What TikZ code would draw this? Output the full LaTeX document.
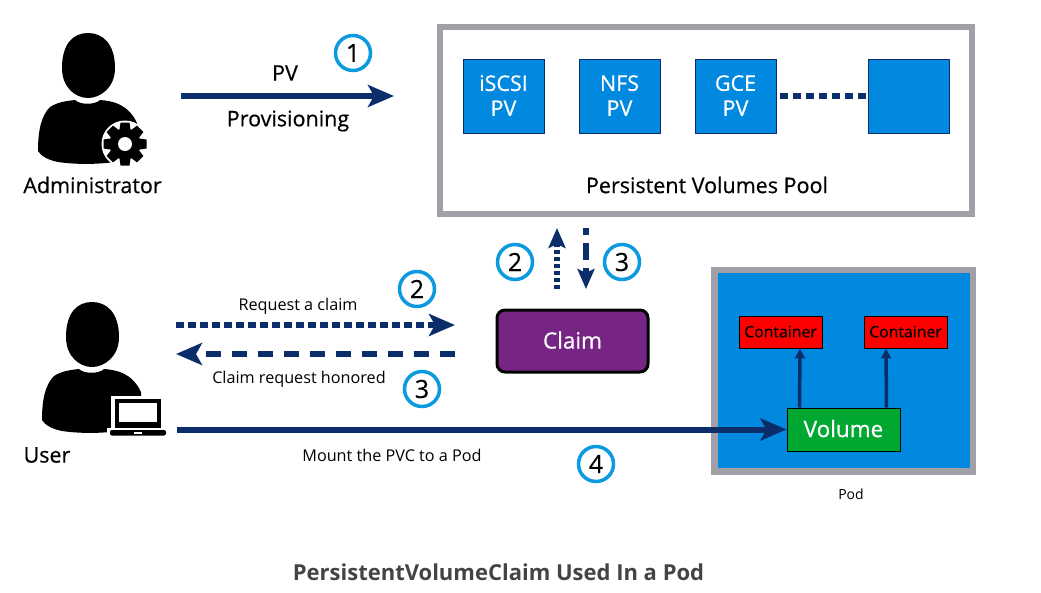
\documentclass[tikz,border=0pt]{standalone}
\usepackage{fontspec}
\setmainfont{Open Sans}
\newfontfamily\semifont[FakeBold=0.5]{Open Sans}
\usepackage{xcolor}
\usetikzlibrary{arrows.meta,positioning}
\definecolor{navyc}{HTML}{0B2E6B}
\definecolor{greyc}{HTML}{A0A0A6}
\definecolor{bluec}{HTML}{0089DF}
\definecolor{ringc}{HTML}{0B9AE0}
\definecolor{purplec}{HTML}{762585}
\definecolor{greenc}{HTML}{00A832}
\definecolor{titlec}{HTML}{444444}
\tikzset{
  poolbox/.style={rectangle, draw=greyc, line width=6pt, fill=white, minimum width=532pt, minimum height=187pt},
  podbox/.style={rectangle, draw=greyc, line width=6.5pt, fill=bluec, minimum width=258.5pt, minimum height=201.5pt},
  pvnode/.style={rectangle, draw=navyc, line width=0.8pt, fill=bluec, text=white, minimum width=81pt, minimum height=74pt,
    inner sep=0pt, align=center, font=\semifont\fontsize{21.5}{25}\selectfont},
  claimnode/.style={rectangle, rounded corners=8pt, draw=black, line width=3pt, fill=purplec, text=white,
    minimum width=151pt, minimum height=62pt, font=\semifont\fontsize{22.5}{26}\selectfont},
  containernode/.style={rectangle, draw=black, line width=1pt, fill=red, text=black, minimum width=83pt, minimum height=32pt,
    inner sep=0pt, font=\semifont\fontsize{15.8}{18}\selectfont},
  volumenode/.style={rectangle, draw=black, line width=1pt, fill=greenc, text=white, minimum width=113pt, minimum height=43pt,
    inner sep=0pt, font=\semifont\fontsize{22.5}{26}\selectfont},
  stepmark/.style={circle, draw=ringc, line width=3.5pt, fill=white, text=black, minimum size=35pt, inner sep=0pt,
    font=\semifont\fontsize{25}{29}\selectfont},
  biglabel/.style={inner sep=0pt, font=\semifont\fontsize{21.5}{24}\selectfont},
  smalllabel/.style={inner sep=0pt, font=\fontsize{16.2}{18}\selectfont},
  solidedge/.style={-{Stealth[length=26pt,width=22pt,inset=6pt]}, draw=navyc, line width=6pt},
  dottededge/.style={solidedge, dash pattern=on 8pt off 4pt},
  dashededge/.style={solidedge, dash pattern=on 15pt off 11pt},
  thinedge/.style={-{Stealth[length=10pt,width=10pt,inset=1pt]}, draw=navyc, line width=3.5pt},
  person/.pic={
    \fill[black] (0,-33) .. controls (-15,-33) and (-26,-22) .. (-26,2)
      .. controls (-26,22) and (-12,32) .. (0,32)
      .. controls (12,32) and (27,22) .. (27,2)
      .. controls (27,-22) and (15,-33) .. (0,-33) -- cycle;
    \fill[black] (-50,85) .. controls (-50,65) and (-47,50) .. (-38,41)
      .. controls (-30,36) and (-22,35) .. (-13,34)
      .. controls (-8,39) and (7,39) .. (12,34)
      .. controls (25,35) and (40,38) .. (49,57)
      -- (49,92) .. controls (20,99) and (-10,99) .. (-30,96)
      .. controls (-40,94) and (-47,90) .. (-50,85) -- cycle;
  },
}
\begin{document}
\begin{tikzpicture}[x=1pt, y=-1pt]
  \useasboundingbox (0,0) rectangle (1041,592);
  % administrator
  \pic at (88,66) {person};
  \fill[white] (125,144) circle (23.5);
  \foreach \a in {0,45,...,315} {
    \fill[black, rotate around={\a:(125,144)}] (120.5,122.5) -- (129.5,122.5) -- (131,133) -- (119,133) -- cycle;
  }
  \fill[black] (125,144) circle (15.5);
  \fill[white] (125,144) circle (7);
  % user
  \pic at (92,335) {person};
  \fill[white] (111,396) rectangle (165,428);
  \fill[white] (107,428) rectangle (169,438);
  \fill[black] (115,399) rectangle (161,428);
  \fill[white] (119,403) rectangle (157,422);
  \fill[black, rounded corners=2pt] (110,430) rectangle (166,435.5);
  \fill[white] (134,432) rectangle (142,434);
  \node[biglabel] (admin) at (92.5,185) {Administrator};
  \node[biglabel] (user) at (47,455) {User};
  % pool
  \node[poolbox] (pool) at (706,120.5) {};
  \node[pvnode] (iscsi) at (503.5,96) {\raisebox{1pt}{iSCSI}\\\raisebox{1pt}{PV}};
  \node[pvnode] (nfs) at (619.5,96) {\raisebox{1pt}{NFS}\\\raisebox{1pt}{PV}};
  \node[pvnode] (gce) at (735.5,96) {\raisebox{1pt}{GCE}\\\raisebox{1pt}{PV}};
  \node[pvnode] (blank) at (908.5,96) {};
  \node[biglabel] (poollabel) at (707,185) {Persistent Volumes Pool};
  \draw[navyc, line width=6pt, dash pattern=on 8pt off 5pt] (gce.east) ++(4,0) coordinate (dots) -- (dots -| blank.west);
  % pod
  \node[podbox] (pod) at (843.5,370.5) {};
  \node[containernode] (c1) at (780.5,332) {\raisebox{1pt}{Container}};
  \node[containernode] (c2) at (905.5,332) {\raisebox{1pt}{Container}};
  \node[volumenode] (volume) at (843.5,429.5) {\raisebox{2pt}{Volume}};
  \node[smalllabel, font=\fontsize{14}{17}\selectfont] (podlabel) at (851,494) {Pod};
  \draw[thinedge] ([xshift=13pt]volume.north west) -- ([xshift=19.5pt]c1.south);
  \draw[thinedge] ([xshift=-14pt]volume.north east) -- ([xshift=-19.5pt]c2.south);
  % claim
  \node[claimnode] (claim) at (572.5,341) {\raisebox{2pt}{Claim}};
  % step marks
  \node[stepmark] (one) at (353,53) {1};
  \node[stepmark] (twoa) at (515,262) {2};
  \node[stepmark] (threea) at (622,262) {3};
  \node[stepmark] (twob) at (417,289) {2};
  \node[stepmark] (threeb) at (422,389) {3};
  \node[stepmark] (four) at (596,464) {4};
  % provisioning
  \coordinate (provstart) at (181,96);
  \coordinate (provend) at (394,96);
  \draw[solidedge] (provstart) -- (provend);
  \node[biglabel] (pvlabel) at (285,73) {PV};
  \node[biglabel] (provlabel) at (288,121) {Provisioning};
  % request and honor
  \coordinate (reqstart) at (176,325);
  \coordinate (reqend) at (455,325);
  \coordinate (honstart) at (455,354);
  \coordinate (honend) at (176,354);
  \draw[dottededge] (reqstart) -- (reqend);
  \draw[dashededge] (honstart) -- (honend);
  \node[smalllabel] (reqlabel) at (298,306) {Request a claim};
  \node[smalllabel] (honlabel) at (299,379) {Claim request honored};
  % pool and claim
  \coordinate (upstart) at (557,289);
  \coordinate (upend) at (557,228);
  \coordinate (downstart) at (586,228);
  \coordinate (downend) at (586,289);
  \draw[solidedge, dash pattern=on 4pt off 3pt, -{Stealth[length=20pt,width=17pt,inset=4pt]}] (upstart) -- (upend);
  \draw[solidedge, dash pattern=on 7pt off 8pt on 17pt off 8pt, -{Stealth[length=20pt,width=17pt,inset=4pt]}] (downstart) -- (downend);
  % mount
  \coordinate (mountstart) at (177,429.5);
  \draw[solidedge] (mountstart) -- (volume.west);
  \node[smalllabel] (mountlabel) at (392,455) {Mount the PVC to a Pod};
  % title
  \node[inner sep=0pt, text=titlec, font=\fontsize{22}{26}\selectfont\bfseries] (title) at (498.5,572) {PersistentVolumeClaim Used In a Pod};
\end{tikzpicture}
\end{document}
